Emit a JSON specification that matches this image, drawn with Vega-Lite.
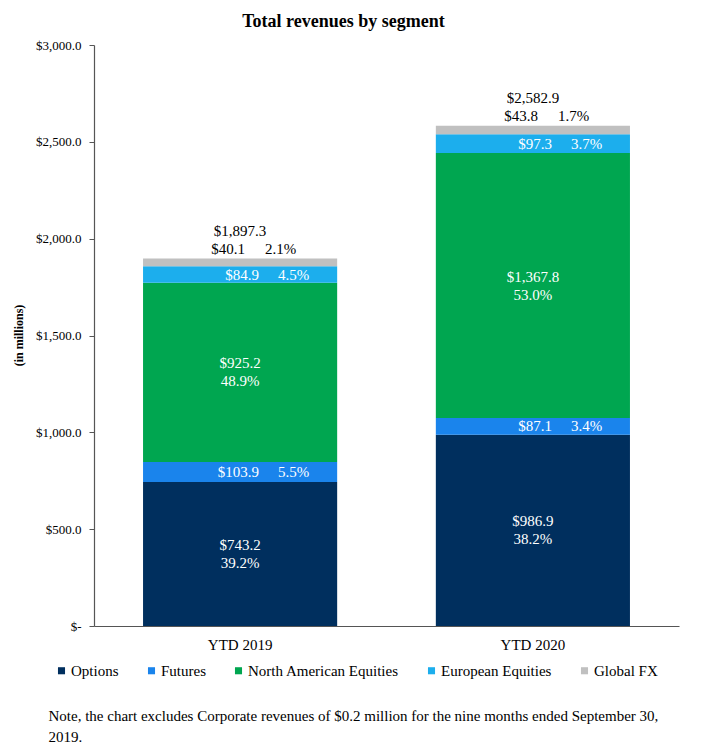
{
  "$schema": "https://vega.github.io/schema/vega-lite/v6.json",
  "autosize": "none",
  "width": 585,
  "height": 581,
  "padding": {"left": 94, "top": 45, "right": 27, "bottom": 120},
  "background": "white",
  "title": {
    "text": "Total revenues by segment",
    "font": "Liberation Serif",
    "fontSize": 18,
    "fontWeight": "bold",
    "color": "#000000",
    "anchor": "middle",
    "frame": "group",
    "dx": -43,
    "offset": 8
  },
  "config": {
    "view": {"stroke": null},
    "font": "Liberation Serif",
    "text": {"font": "Liberation Serif"},
    "legend": {"labelFont": "Liberation Serif"}
  },
  "data": {
    "values": [
      {"period": "YTD 2019", "segment": "Options", "k": 1, "value": 743.2, "pct": 0.392},
      {"period": "YTD 2019", "segment": "Futures", "k": 2, "value": 103.9, "pct": 0.055},
      {"period": "YTD 2019", "segment": "North American Equities", "k": 3, "value": 925.2, "pct": 0.489},
      {"period": "YTD 2019", "segment": "European Equities", "k": 4, "value": 84.9, "pct": 0.045},
      {"period": "YTD 2019", "segment": "Global FX", "k": 5, "value": 40.1, "pct": 0.021},
      {"period": "YTD 2020", "segment": "Options", "k": 1, "value": 986.9, "pct": 0.382},
      {"period": "YTD 2020", "segment": "Futures", "k": 2, "value": 87.1, "pct": 0.034},
      {"period": "YTD 2020", "segment": "North American Equities", "k": 3, "value": 1367.8, "pct": 0.530},
      {"period": "YTD 2020", "segment": "European Equities", "k": 4, "value": 97.3, "pct": 0.037},
      {"period": "YTD 2020", "segment": "Global FX", "k": 5, "value": 43.8, "pct": 0.017}
    ]
  },
  "transform": [
    {"stack": "value", "groupby": ["period"], "sort": [{"field": "k", "order": "ascending"}], "as": ["v0", "v1"]},
    {"calculate": "(datum.v0 + datum.v1) / 2", "as": "mid"}
  ],
  "encoding": {
    "x": {
      "field": "period",
      "type": "nominal",
      "scale": {"paddingInner": 0.337, "paddingOuter": 0.1675},
      "axis": {
        "labelAngle": 0,
        "ticks": false,
        "labelPadding": 11,
        "labelFont": "Liberation Serif",
        "labelFontSize": 15,
        "labelColor": "#000000",
        "domainColor": "#555555",
        "domainWidth": 1.2,
        "title": ["Note, the chart excludes Corporate revenues of $0.2 million for the nine months ended September 30,", "2019."],
        "titleFont": "Liberation Serif",
        "titleFontSize": 15,
        "titleFontWeight": "normal",
        "titleColor": "#000000",
        "titleAlign": "left",
        "titleAnchor": "start",
        "titleBaseline": "top",
        "titleLineHeight": 21,
        "titleX": -46,
        "titleY": 82
      }
    }
  },
  "layer": [
    {
      "mark": {"type": "bar"},
      "encoding": {
        "y": {
          "field": "v0",
          "type": "quantitative",
          "scale": {"domain": [0, 3000], "nice": false},
          "axis": {
            "values": [0, 500, 1000, 1500, 2000, 2500, 3000],
            "labelExpr": "datum.value == 0 ? '$-' : '$' + format(datum.value, ',.1f')",
            "grid": false,
            "tickSize": 5,
            "tickColor": "#555555",
            "domainColor": "#555555",
            "domainWidth": 1.2,
            "labelPadding": 8,
            "labelFont": "Liberation Serif",
            "labelFontSize": 13,
            "labelColor": "#000000",
            "title": "(in millions)",
            "titleFont": "Liberation Serif",
            "titleFontSize": 12,
            "titleFontWeight": "bold",
            "titleColor": "#000000",
            "titleAngle": 270,
            "titleBaseline": "bottom",
            "titleAlign": "center",
            "titleX": -69,
            "titleY": 290
          }
        },
        "y2": {"field": "v1"},
        "color": {
          "field": "segment",
          "type": "nominal",
          "scale": {
            "domain": ["Options", "Futures", "North American Equities", "European Equities", "Global FX"],
            "range": ["#002f5e", "#1a84ec", "#00a650", "#1caeed", "#c0c0c0"]
          },
          "legend": {
            "title": null,
            "orient": "none",
            "direction": "horizontal",
            "legendX": -40,
            "legendY": 618,
            "padding": 0,
            "symbolType": "square",
            "symbolSize": 50,
            "symbolStrokeWidth": 0,
            "labelOffset": 2,
            "columnPadding": 25,
            "labelFont": "Liberation Serif",
            "labelFontSize": 15,
            "labelColor": "#000000"
          }
        }
      }
    },
    {
      "transform": [{"filter": "datum.k == 1 || datum.k == 3"}],
      "mark": {"type": "text", "color": "white", "fontSize": 15, "font": "Liberation Serif", "baseline": "middle", "dy": -9},
      "encoding": {
        "y": {"field": "mid", "type": "quantitative"},
        "text": {"field": "value", "type": "quantitative", "format": "$,.1f"}
      }
    },
    {
      "transform": [{"filter": "datum.k == 1 || datum.k == 3"}],
      "mark": {"type": "text", "color": "white", "fontSize": 15, "font": "Liberation Serif", "baseline": "middle", "dy": 9},
      "encoding": {
        "y": {"field": "mid", "type": "quantitative"},
        "text": {"field": "pct", "type": "quantitative", "format": ".1%"}
      }
    },
    {
      "transform": [{"filter": "datum.k == 2 || datum.k == 4"}],
      "mark": {"type": "text", "color": "white", "fontSize": 15, "font": "Liberation Serif", "baseline": "middle", "align": "right", "dx": 19},
      "encoding": {
        "y": {"field": "mid", "type": "quantitative"},
        "text": {"field": "value", "type": "quantitative", "format": "$,.1f"}
      }
    },
    {
      "transform": [{"filter": "datum.k == 2 || datum.k == 4"}],
      "mark": {"type": "text", "color": "white", "fontSize": 15, "font": "Liberation Serif", "baseline": "middle", "align": "left", "dx": 38},
      "encoding": {
        "y": {"field": "mid", "type": "quantitative"},
        "text": {"field": "pct", "type": "quantitative", "format": ".1%"}
      }
    },
    {
      "transform": [{"filter": "datum.k == 5"}],
      "mark": {"type": "text", "color": "#000000", "fontSize": 15, "font": "Liberation Serif", "baseline": "bottom", "align": "right", "dx": 5, "dy": -2},
      "encoding": {
        "y": {"field": "v1", "type": "quantitative"},
        "text": {"field": "value", "type": "quantitative", "format": "$,.1f"}
      }
    },
    {
      "transform": [{"filter": "datum.k == 5"}],
      "mark": {"type": "text", "color": "#000000", "fontSize": 15, "font": "Liberation Serif", "baseline": "bottom", "align": "left", "dx": 25, "dy": -2},
      "encoding": {
        "y": {"field": "v1", "type": "quantitative"},
        "text": {"field": "pct", "type": "quantitative", "format": ".1%"}
      }
    },
    {
      "transform": [{"aggregate": [{"op": "sum", "field": "value", "as": "total"}], "groupby": ["period"]}],
      "mark": {"type": "text", "color": "#000000", "fontSize": 15, "font": "Liberation Serif", "baseline": "bottom", "align": "center", "dy": -20},
      "encoding": {
        "y": {"field": "total", "type": "quantitative"},
        "text": {"field": "total", "type": "quantitative", "format": "$,.1f"}
      }
    }
  ]
}
